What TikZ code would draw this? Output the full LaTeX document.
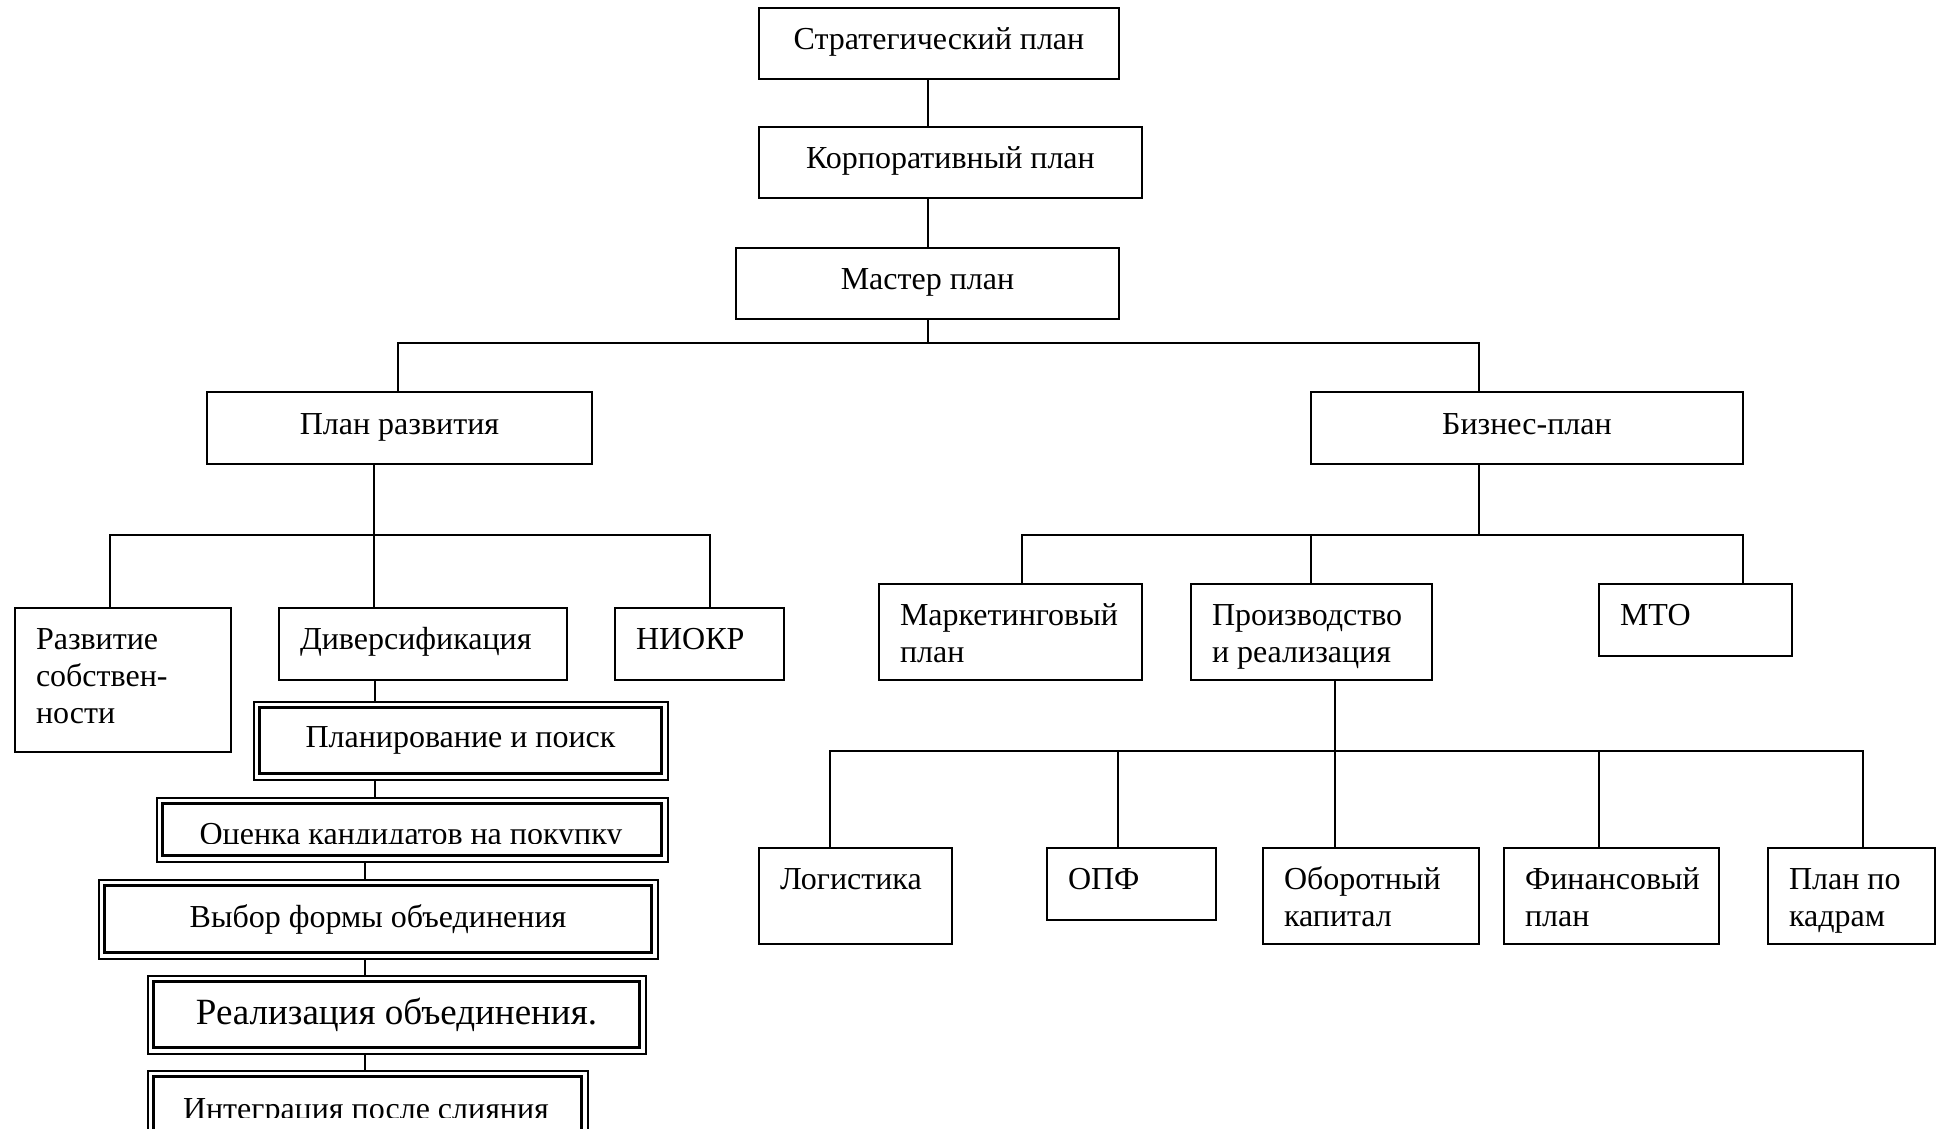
\documentclass[tikz,border=0pt]{standalone}
\usepackage{fontspec}
\setmainfont{Liberation Serif}
\usetikzlibrary{fit}
\newcommand\lefttext[3]{\parbox[c][#2pt][t]{#1pt}{\raggedright\leftskip=21pt\relax\vspace*{16pt}\strut #3}}
\begin{document}
\begin{tikzpicture}[x=1pt,y=-1pt,
  font=\fontsize{32}{37}\selectfont,
  box/.style={draw, line width=2pt, inner sep=0pt, anchor=north west},
  cbox/.style={box, align=center, text height=22.4pt, text depth=10.4pt},
  conn/.style={line width=2pt},
  inbox/.style={draw, line width=3pt, inner sep=0pt, anchor=north west, align=center},
  outbox/.style={draw, line width=2pt, inner sep=4.5pt}]
\clip (0,0) rectangle (1943,1129);
\fill[white] (0,0) rectangle (1943,1129);

% top chain
\node[cbox, minimum width=360pt, minimum height=71pt] (strat) at (758,7) {Стратегический план};
\node[cbox, minimum width=383pt, minimum height=71pt] (korp) at (758,126) {Корпоративный план};
\node[cbox, minimum width=383pt, minimum height=71pt] (master) at (735,247) {Мастер план};
\node[cbox, minimum width=385pt, minimum height=72pt] (razv) at (206,391) {План развития};
\node[cbox, minimum width=432pt, minimum height=72pt] (biz) at (1310,391) {Бизнес-план};

% left level
\node[box] (rs) at (14,607) {\lefttext{216}{144}{Развитие\\собствен-\\ности}};
\node[box] (div) at (278,607) {\lefttext{288}{72}{Диверсификация}};
\node[box] (niokr) at (614,607) {\lefttext{169}{72}{НИОКР}};

% right level
\node[box] (mark) at (878,583) {\lefttext{263}{96}{Маркетинговый\\план}};
\node[box] (proizv) at (1190,583) {\lefttext{241}{96}{Производство\\и реализация}};
\node[box] (mto) at (1598,583) {\lefttext{193}{72}{МТО}};

% bottom level
\node[box] (log) at (758,847) {\lefttext{193}{96}{Логистика}};
\node[box] (opf) at (1046,847) {\lefttext{169}{72}{ОПФ}};
\node[box] (obor) at (1262,847) {\lefttext{216}{96}{Оборотный\\капитал}};
\node[box] (fin) at (1503,847) {\lefttext{215}{96}{Финансовый\\план}};
\node[box] (kadr) at (1767,847) {\lefttext{167}{96}{План по\\кадрам}};

% double-framed chain
\node[inbox, minimum width=402pt, minimum height=66pt] (plan) at (258,706) {Планирование и поиск};
\node[outbox, fit=(plan)] (planO) {};
\node[inbox, minimum width=499pt, minimum height=52pt] (ocenka) at (161,802) {};
\node[outbox, fit=(ocenka)] (ocenkaO) {};
\begin{scope}
  \clip (161,802) rectangle (660,843);
  \node[anchor=base, inner sep=0pt] (ocenkaT) at (411,844) {Оценка кандидатов на покупку};
\end{scope}
\node[inbox, minimum width=547pt, minimum height=67pt] (vybor) at (103,884) {Выбор формы объединения};
\node[outbox, fit=(vybor)] (vyborO) {};
\node[inbox, minimum width=486pt, minimum height=66pt, font=\fontsize{37}{42}\selectfont] (realiz) at (152,980) {Реализация объединения.};
\node[outbox, fit=(realiz)] (realizO) {};
\node[inbox, minimum width=428pt, minimum height=80pt] (integr) at (152,1075) {};
\node[outbox, fit=(integr)] (integrO) {};
\begin{scope}
  \clip (152,1075) rectangle (580,1117);
  \node[anchor=base, inner sep=0pt] (integrT) at (366,1119) {Интеграция после слияния};
\end{scope}

% coordinates for buses
\coordinate (busL) at (398,343);
\coordinate (busR) at (1479,343);
\coordinate (lb1) at (110,535);
\coordinate (lb2) at (374,535);
\coordinate (lb3) at (710,535);
\coordinate (rb1) at (1022,535);
\coordinate (rb2) at (1311,535);
\coordinate (rb3) at (1743,535);
\coordinate (bb1) at (830,751);
\coordinate (bb2) at (1118,751);
\coordinate (bb3) at (1335,751);
\coordinate (bb4) at (1599,751);
\coordinate (bb5) at (1863,751);
\coordinate (dx) at (375,0);
\coordinate (ex) at (365,0);

% connectors
\draw[conn] (master.north) -- (master.north |- korp.south);
\draw[conn] (master.north |- korp.north) -- (master.north |- strat.south);
\draw[conn] (master.south) -- (master.south |- busL);
\draw[conn] (busL |- razv.north) -- (busL) -- (busR) -- (busR |- biz.north);

\draw[conn] (razv.south -| lb2) -- (lb2 |- div.north);
\draw[conn] (lb1 |- rs.north) -- (lb1) -- (lb3) -- (lb3 |- niokr.north);

\draw[conn] (biz.south -| busR) -- (busR |- rb1);
\draw[conn] (rb1 |- mark.north) -- (rb1) -- (rb3) -- (rb3 |- mto.north);
\draw[conn] (rb2) -- (rb2 |- proizv.north);

\draw[conn] (proizv.south -| bb3) -- (bb3 |- obor.north);
\draw[conn] (bb1 |- log.north) -- (bb1) -- (bb5) -- (bb5 |- kadr.north);
\draw[conn] (bb2) -- (bb2 |- opf.north);
\draw[conn] (bb4) -- (bb4 |- fin.north);

\draw[conn] (div.south -| dx) -- (planO.north -| dx);
\draw[conn] (planO.south -| dx) -- (ocenkaO.north -| dx);
\draw[conn] (ocenkaO.south -| ex) -- (vyborO.north -| ex);
\draw[conn] (vyborO.south -| ex) -- (realizO.north -| ex);
\draw[conn] (realizO.south -| ex) -- (integrO.north -| ex);
\end{tikzpicture}
\end{document}
